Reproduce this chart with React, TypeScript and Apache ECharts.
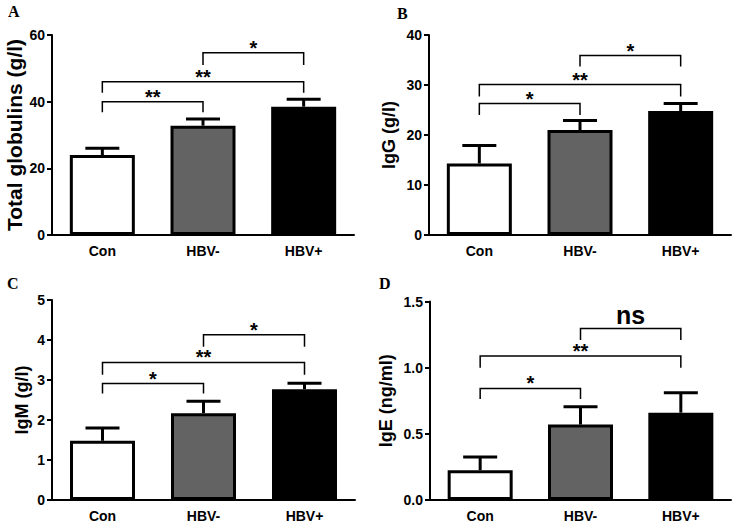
import React, { useEffect, useRef } from 'react';
import * as echarts from 'echarts';

const categories = ['Con', 'HBV-', 'HBV+'];
const barColors = ['#ffffff', '#636363', '#000000'];

const globulinMean = [24.0, 32.8, 38.5];
const globulinSem = [2.0, 2.0, 2.2];
const igGMean = [14.3, 21.0, 24.8];
const igGSem = [3.6, 1.9, 1.5];
const igMMean = [1.48, 2.17, 2.77];
const igMSem = [0.32, 0.3, 0.15];
const igEMean = [0.225, 0.57, 0.66];
const igESem = [0.1, 0.135, 0.15];

// [fromIndex, toIndex, bracketY, legBottomY]
const globulinBrackets = [[0, 1, 40, 36.8], [0, 2, 46, 42.7], [1, 2, 54.7, 51]];
const globulinMarks = ['**', '**', '*'];
const igGBrackets = [[0, 1, 26.3, 24], [0, 2, 30.1, 27.7], [1, 2, 35.9, 33.7]];
const igGMarks = ['*', '**', '*'];
const igMBrackets = [[0, 1, 2.91, 2.66], [0, 2, 3.44, 3.13], [1, 2, 4.13, 3.83]];
const igMMarks = ['*', '**', '*'];
const igEBrackets = [[0, 1, 0.843, 0.763], [0, 2, 1.088, 1.0], [1, 2, 1.296, 1.21]];
const igEMarks = ['*', '**', 'ns'];

const yMaxes = [60, 40, 5, 1.5];
const yIntervals = [20, 10, 1, 0.5];
const yTitles = ['Total globulins (g/l)', 'IgG (g/l)', 'IgM (g/l)', 'IgE (ng/ml)'];
const panelLetters = ['A', 'B', 'C', 'D'];

const FONT = 'Liberation Sans, Arial, sans-serif';

export default function App() {
  const ref = useRef<HTMLDivElement>(null);
  useEffect(() => {
    document.body.style.margin = '0';
    if (!ref.current) return;
    const chart = echarts.init(ref.current, null, { renderer: 'svg' });

    const means = [globulinMean, igGMean, igMMean, igEMean];
    const sems = [globulinSem, igGSem, igMSem, igESem];
    const brackets = [globulinBrackets, igGBrackets, igMBrackets, igEBrackets];
    const marks = [globulinMarks, igGMarks, igMMarks, igEMarks];

    const grids = [
      { left: 52, top: 35, width: 302, height: 200 },
      { left: 429, top: 35, width: 302, height: 200 },
      { left: 52, top: 300, width: 303, height: 200 },
      { left: 430, top: 301.5, width: 301, height: 200 },
    ];
    const titleSizes = [21, 18, 18, 18];
    const nameGaps = [27, 31, 21, 35];

    const xAxis: any[] = [];
    const yAxis: any[] = [];
    const series: any[] = [];

    for (let p = 0; p < 4; p++) {
      xAxis.push({
        type: 'category',
        gridIndex: p,
        data: categories,
        axisLine: { lineStyle: { color: '#000', width: 2 } },
        axisTick: { alignWithLabel: true, length: 5, lineStyle: { color: '#000', width: 2 } },
        axisLabel: { color: '#000', fontFamily: FONT, fontWeight: 'bold', fontSize: 14, margin: 9 },
      });
      yAxis.push({
        type: 'value',
        gridIndex: p,
        min: 0,
        max: yMaxes[p],
        interval: yIntervals[p],
        name: yTitles[p],
        nameLocation: 'middle',
        nameRotate: 90,
        nameGap: nameGaps[p],
        nameTextStyle: { color: '#000', fontFamily: FONT, fontWeight: 'bold', fontSize: titleSizes[p] },
        splitLine: { show: false },
        axisLine: { show: true, lineStyle: { color: '#000', width: 2 } },
        axisTick: { show: true, length: 5, lineStyle: { color: '#000', width: 2 } },
        axisLabel: {
          color: '#000', fontFamily: FONT, fontWeight: 'bold', fontSize: 14, margin: 7,
          formatter: p === 3 ? (v: number) => v.toFixed(1) : (v: number) => String(v),
        },
      });
      series.push({
        type: 'bar',
        xAxisIndex: p,
        yAxisIndex: p,
        barWidth: 65,
        data: means[p].map((v, i) => ({ value: v, itemStyle: { color: barColors[i] } })),
        itemStyle: { borderColor: '#000', borderWidth: 3 },
        z: 2,
      });
      series.push({
        type: 'custom',
        xAxisIndex: p,
        yAxisIndex: p,
        z: 3,
        data: means[p].map((v, i) => [i, v, v + sems[p][i]]),
        renderItem: (params: any, api: any) => {
          const x = api.value(0);
          const p0 = api.coord([x, api.value(1)]);
          const p1 = api.coord([x, api.value(2)]);
          const half = 17;
          const st = { stroke: '#000', lineWidth: 3 };
          return {
            type: 'group',
            children: [
              { type: 'line', shape: { x1: p0[0], y1: p0[1], x2: p1[0], y2: p1[1] }, style: st },
              { type: 'line', shape: { x1: p1[0] - half, y1: p1[1], x2: p1[0] + half, y2: p1[1] }, style: st },
            ],
          };
        },
      });
      const mk = marks[p];
      series.push({
        type: 'custom',
        xAxisIndex: p,
        yAxisIndex: p,
        z: 4,
        data: brackets[p].map((b, i) => [b[0], b[1], b[2], b[3], i]),
        renderItem: (params: any, api: any) => {
          const a = api.coord([api.value(0), api.value(2)]);
          const b = api.coord([api.value(1), api.value(2)]);
          const leg = api.coord([api.value(0), api.value(3)]);
          const txt = mk[params.dataIndex];
          const isNs = txt === 'ns';
          return {
            type: 'group',
            children: [
              {
                type: 'polyline',
                shape: { points: [[a[0], leg[1]], [a[0], a[1]], [b[0], b[1]], [b[0], leg[1]]] },
                style: { stroke: '#000', lineWidth: 1.5, fill: null },
              },
              {
                type: 'text',
                x: (a[0] + b[0]) / 2,
                y: a[1] - (isNs ? 13 : 5),
                style: {
                  text: txt,
                  fill: '#000',
                  font: `bold ${isNs ? 25 : 20}px ${FONT}`,
                  align: 'center',
                  verticalAlign: 'middle',
                },
              },
            ],
          };
        },
      });
    }

    const letterPos = [[8, 3], [397, 5], [7, 275], [379, 275]];
    const graphic = panelLetters.map((t, i) => ({
      type: 'text',
      x: letterPos[i][0],
      y: letterPos[i][1],
      style: { text: t, fill: '#000', font: 'bold 16px Liberation Serif, Times New Roman, serif' },
    }));

    chart.setOption({
      animation: false,
      grid: grids,
      xAxis,
      yAxis,
      series,
      graphic,
    });
    return () => chart.dispose();
  }, []);
  return <div ref={ref} style={{ width: 732, height: 523 }} />;
}
